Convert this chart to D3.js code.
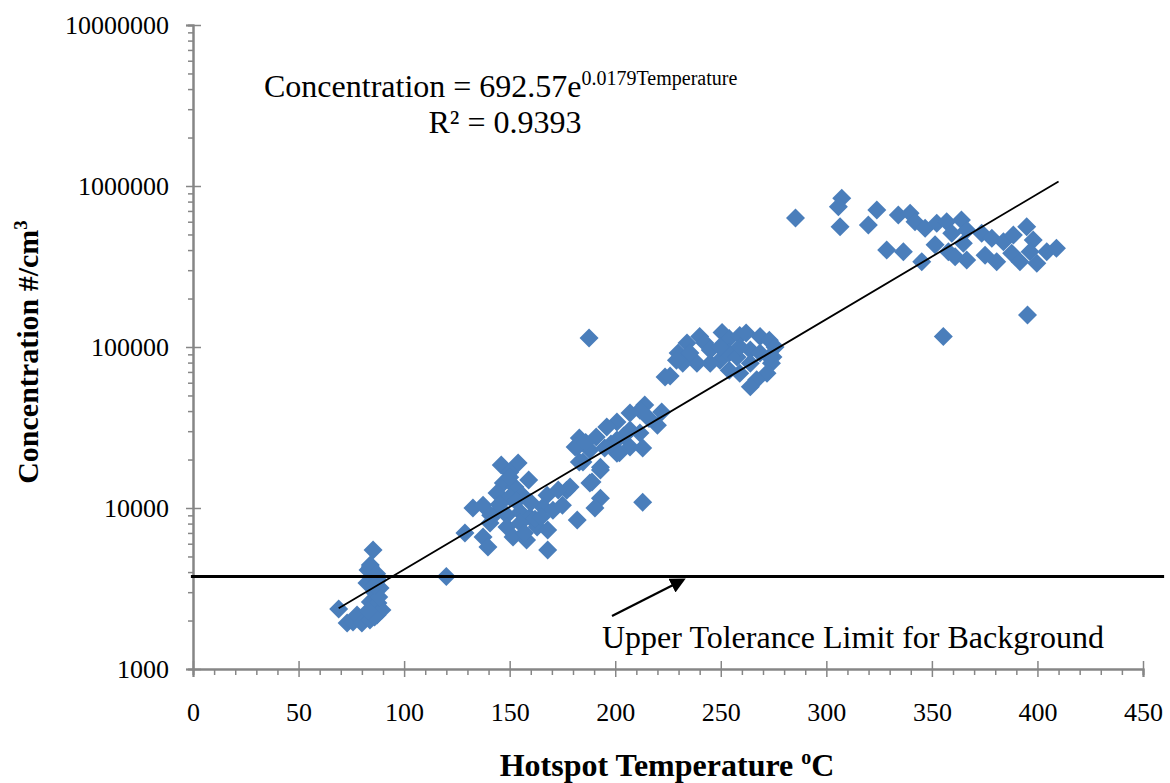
<!DOCTYPE html>
<html><head><meta charset="utf-8">
<script src="https://cdn.jsdelivr.net/npm/d3@7"></script>
<style>body{margin:0;background:#fff;} svg{display:block;}</style>
</head><body>
<svg id="chart" width="1170" height="783"></svg>
<script>
// Hotspot temperature (°C)
const temperature = [
 69,73,75.8,77.7,80,82.4,82.9,83.8,84,85.3,84,85.3,86.2,87.2,87.6,87.6,88.6,89.5,86,84,87,88,83,86,
 120,
 146,154,150,159,147,152.5,144,150,156,167.7,132.6,137.4,144,148.7,155,159.6,165.8,170.5,140.7,148.7,155,163,168,128.8,137.4,139.7,151.6,158,168,177,175,182,188,193,190.4,184.7,193,160,162,153,145,157,165,150,141,
 214,211.7,222,207,220,200.8,196,207,211.7,183,191,200.8,207,213,181,188,195,202,183,193,189,178.6,173,213,182,200.8,204,216,198,186,
 187.6,
 223.6,229.8,234,240,242.5,250.6,254,259,262,268.6,273,275.7,274.7,274,271.9,267,264,259,254,249.6,245,238.7,232,229,235.4,245,254,264,268.6,273,257.7,264,259,249.6,226,
 285.4,
 307.3,305.7,306.5,323.9,319.9,334.1,339.7,342,328.6,336.5,345.2,346.8,351.5,352.3,357,364,359.4,366.5,364.9,357.8,361,366.5,373.6,375.2,380.7,378.4,383.9,388.6,387.8,391.7,394.9,398,396.5,399.7,404.4,409,
 355.4,395.3
];
// Concentration (#/cm3)
const concentration = [
 2360,1930,1960,2165,1932,3420,4120,2015,2610,5485,4427,3725,2964,2163,3570,2570,3185,2324,2100,4300,3900,2800,2300,3300,
 3750,
 18500,19000,16700,14900,14300,13500,12400,11700,12000,12000,10000,10400,9430,9020,9430,8800,10130,9700,8080,7630,8080,7630,7300,7000,6600,5720,6600,6320,5490,12900,10400,8420,14300,11500,10000,19300,17200,10800,8500,11000,10500,7000,8800,15500,9000,
 43600,40500,39500,38900,32700,34200,31800,30500,29200,27200,27600,26400,23900,23600,23900,22900,23600,22000,19300,17900,14500,13500,12950,10860,23900,21900,28000,36000,25000,25500,
 113700,
 65100,91800,106000,116000,106000,123000,113000,118000,122000,116000,110000,100000,86700,79400,68800,62700,56600,68800,71800,82800,79400,79400,79400,82800,91800,95700,91800,95700,91800,86700,86700,79400,100000,100000,66000,
 632000,
 839000,743000,558000,709000,573000,661000,677000,600000,400000,391000,339000,546000,431000,586000,600000,615000,508000,533000,441000,391000,364000,347000,508000,372000,339000,473000,451000,496000,382000,339000,558000,462000,391000,331000,391000,410000,
 116000,158000
];
const xTickValues = [0,50,100,150,200,250,300,350,400,450];
const yTickValues = [1000,10000,100000,1000000,10000000];
const yTickLabels = ["1000","10000","100000","1000000","10000000"];
// exponential fit: Concentration = 692.57 e^(0.0179 T), drawn over the data range
const fitA = 692.57, fitB = 0.0179;
const fitRange = [69, 410];
const toleranceLimit = 3750;

(function(){
const svg = d3.select("#chart");
const pl = 193, pr = 1143, pt = 25, pb = 669;
const x = d3.scaleLinear().domain([0,450]).range([pl,pr]);
const y = d3.scaleLog().domain([1000,10000000]).range([pb,pt]);
const axisColor = "#868686";
const serif = "'Liberation Serif','Times New Roman',serif";

// X axis
const gx = svg.append("g").attr("transform",`translate(0,${pb})`);
const minorX = d3.range(0,451,10).filter(v=>v%50!==0);
gx.append("g").call(d3.axisBottom(x).tickValues(minorX).tickSize(6).tickFormat(""));
const gxm = gx.append("g").call(d3.axisBottom(x).tickValues(xTickValues).tickSize(8).tickFormat(d3.format("d")));
gx.selectAll(".tick line").attr("stroke",axisColor).attr("stroke-width",1.5);
gxm.selectAll(".tick line").attr("y1",-8).attr("y2",8);
gx.selectAll(".domain").attr("stroke",axisColor).attr("stroke-width",2);
gx.selectAll("text").attr("font-family",serif).attr("font-size",26).attr("fill","#000").attr("dy",0).attr("y",52);

// Y axis
const gy = svg.append("g").attr("transform",`translate(${pl},0)`);
const minorY = [];
for (let e=3;e<7;e++) for (let m=2;m<10;m++) minorY.push(m*Math.pow(10,e));
gy.append("g").call(d3.axisLeft(y).tickValues(minorY).tickSize(5).tickFormat(""));
const gym = gy.append("g").call(d3.axisLeft(y).tickValues(yTickValues).tickSize(7).tickFormat((d,i)=>yTickLabels[i]));
gy.selectAll(".tick line").attr("stroke",axisColor).attr("stroke-width",1.5);
gym.selectAll(".tick line").attr("x1",-7).attr("x2",8);
gy.selectAll(".domain").attr("stroke",axisColor).attr("stroke-width",2);
gy.selectAll("text").attr("font-family",serif).attr("font-size",26).attr("fill","#000").attr("x",-24);

// Points
const r = 9.5;
svg.append("g").selectAll("path").data(temperature.map((t,i)=>[t,concentration[i]]))
 .join("path")
 .attr("d",`M0,${-r}L${r},0L0,${r}L${-r},0Z`)
 .attr("transform",d=>`translate(${x(d[0])},${y(d[1])})`)
 .attr("fill","#4A7EBB");

// Trend line
const line = d3.line().x(d=>x(d[0])).y(d=>y(d[1]));
svg.append("path").datum(fitRange.map(t=>[t,fitA*Math.exp(fitB*t)]))
 .attr("d",line).attr("stroke","#000").attr("stroke-width",1.8).attr("fill","none");

// Tolerance limit line
svg.append("line").attr("x1",x(-1)).attr("x2",x(460)).attr("y1",y(toleranceLimit)).attr("y2",y(toleranceLimit))
 .attr("stroke","#000").attr("stroke-width",3);

// Arrow
svg.append("defs").append("marker").attr("id","ah").attr("viewBox","0 0 10 10").attr("refX",8).attr("refY",5)
 .attr("markerWidth",7).attr("markerHeight",7).attr("orient","auto")
 .append("path").attr("d","M0,0L10,5L0,10Z").attr("fill","#000");
svg.append("line").attr("x1",612).attr("y1",616).attr("x2",683).attr("y2",580)
 .attr("stroke","#000").attr("stroke-width",2.2).attr("marker-end","url(#ah)");

svg.append("text").attr("x",602).attr("y",648).attr("font-family",serif).attr("font-size",32)
 .text("Upper Tolerance Limit for Background");

// Equation
const eq = svg.append("text").attr("x",264).attr("y",97).attr("font-family",serif).attr("font-size",32);
eq.append("tspan").text("Concentration = 692.57e");
eq.append("tspan").attr("font-size",20).attr("dy",-12).text("0.0179Temperature");
svg.append("text").attr("x",505).attr("y",133).attr("text-anchor","middle").attr("font-family",serif).attr("font-size",32)
 .text("R² = 0.9393");

// Axis titles
const xt = svg.append("text").attr("x",667).attr("y",776).attr("text-anchor","middle").attr("font-family",serif)
 .attr("font-size",32).attr("font-weight","bold");
xt.append("tspan").text("Hotspot Temperature ");
xt.append("tspan").attr("font-size",20).attr("dy",-12).text("o");
xt.append("tspan").attr("dy",12).text("C");

const yt = svg.append("text").attr("transform","translate(38,352) rotate(-90)").attr("text-anchor","middle")
 .attr("font-family",serif).attr("font-size",30).attr("font-weight","bold");
yt.append("tspan").text("Concentration #/cm");
yt.append("tspan").attr("font-size",19).attr("dy",-11).text("3");
})();
</script>
</body></html>
